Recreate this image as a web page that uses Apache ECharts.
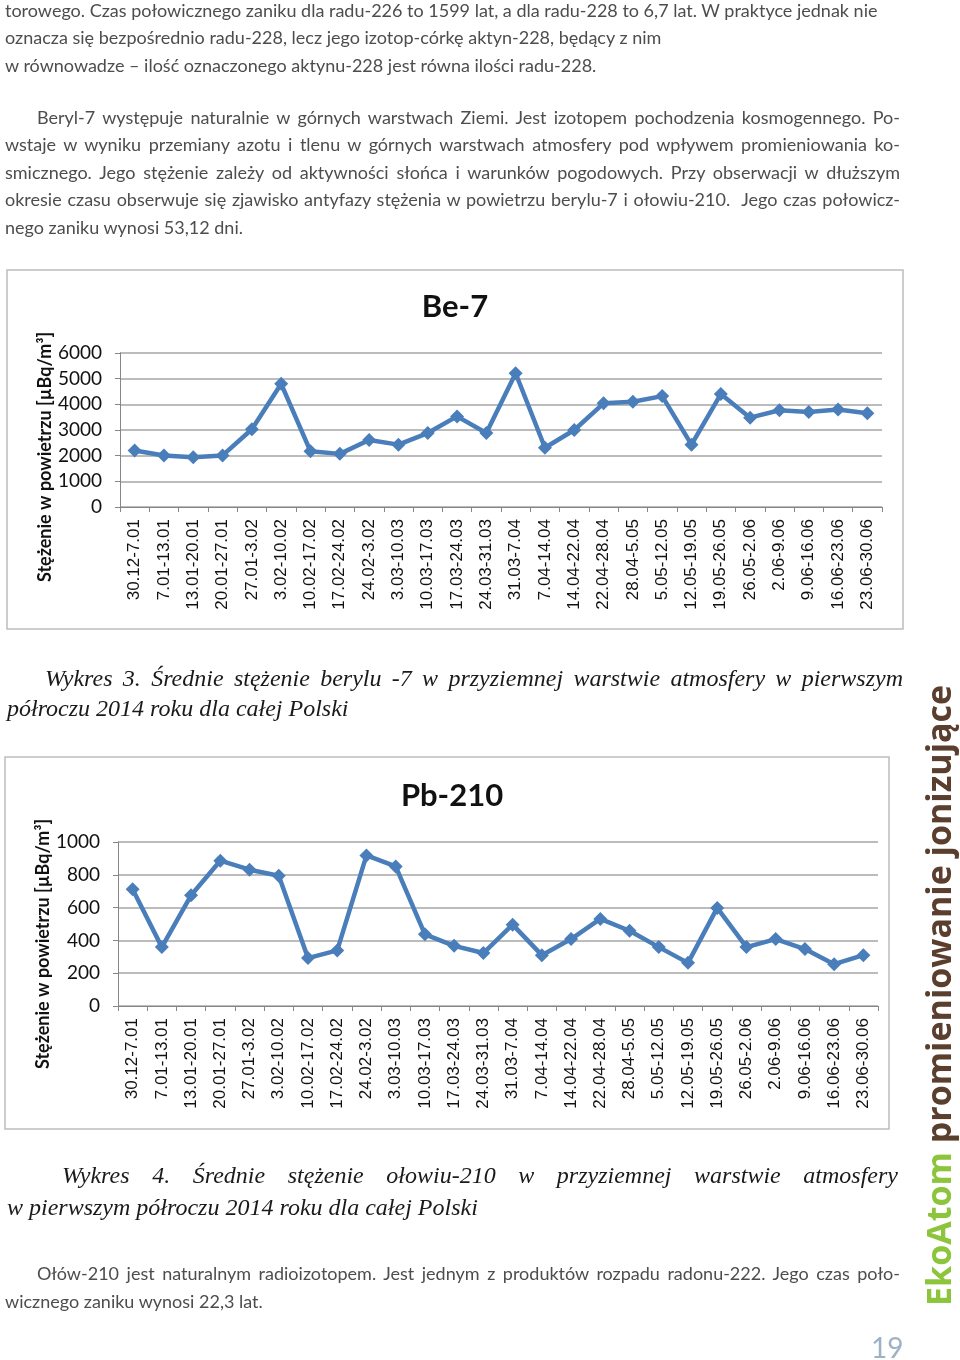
<!DOCTYPE html>
<html>
<head>
<meta charset="utf-8">
<script src="https://cdn.jsdelivr.net/npm/echarts@6/dist/echarts.min.js"></script>
<style>
  body { margin: 0; background: #fff; }
  #main { position: absolute; left: 0; top: 0; width: 960px; height: 1360px; }
  .ln { position: absolute; white-space: nowrap; font-family: Lato, sans-serif; font-size: 18px; color: #4d4d4d; line-height: 28px; height: 28px; }
  .j { text-align: justify; text-align-last: justify; white-space: normal; }
  .cap { position: absolute; white-space: nowrap; font-family: "Liberation Serif", serif; font-style: italic; font-size: 24px; color: #1a1a1a; line-height: 30px; height: 30px; }
  .side { position: absolute; left: 917px; top: 1306px; transform-origin: 0 0; transform: rotate(-90deg); white-space: nowrap; font-family: "Open Sans", sans-serif; font-weight: bold; font-size: 34px; line-height: 42px; }
  .pg { position: absolute; left: 871px; top: 1330px; font-family: Lato, sans-serif; font-size: 28px; color: #9db2c6; }
</style>
</head>
<body>
<div id="main"></div>

<div class="ln" style="left:5px;top:-4px">torowego. Czas połowicznego zaniku dla radu-226 to 1599 lat, a dla radu-228 to 6,7 lat. W praktyce jednak nie</div>
<div class="ln" style="left:5px;top:23px">oznacza się bezpośrednio radu-228, lecz jego izotop-córkę aktyn-228, będący z nim</div>
<div class="ln" style="left:5px;top:51px">w równowadze – ilość oznaczonego aktynu-228 jest równa ilości radu-228.</div>

<div class="ln j" style="left:37px;top:103px;width:863px">Beryl-7 występuje naturalnie w górnych warstwach Ziemi. Jest izotopem pochodzenia kosmogennego. Po-</div>
<div class="ln j" style="left:5px;top:130px;width:895px">wstaje w wyniku przemiany azotu i tlenu w górnych warstwach atmosfery pod wpływem promieniowania ko-</div>
<div class="ln j" style="left:5px;top:158px;width:895px">smicznego. Jego stężenie zależy od aktywności słońca i warunków pogodowych. Przy obserwacji w dłuższym</div>
<div class="ln j" style="left:5px;top:185px;width:895px">okresie czasu obserwuje się zjawisko antyfazy stężenia w powietrzu berylu-7 i ołowiu-210.&nbsp; Jego czas połowicz-</div>
<div class="ln" style="left:5px;top:213px">nego zaniku wynosi 53,12 dni.</div>

<div class="cap j" style="left:45px;top:663px;width:858px">Wykres 3. Średnie stężenie berylu -7 w przyziemnej warstwie atmosfery w pierwszym</div>
<div class="cap" style="left:7px;top:693px">półroczu 2014 roku dla całej Polski</div>

<div class="cap j" style="left:62px;top:1160px;width:836px">Wykres 4. Średnie stężenie ołowiu-210 w przyziemnej warstwie atmosfery</div>
<div class="cap" style="left:7px;top:1192px">w pierwszym półroczu 2014 roku dla całej Polski</div>

<div class="ln j" style="left:37px;top:1259px;width:863px">Ołów-210 jest naturalnym radioizotopem. Jest jednym z produktów rozpadu radonu-222. Jego czas poło-</div>
<div class="ln" style="left:5px;top:1287px">wicznego zaniku wynosi 22,3 lat.</div>

<div class="side"><span style="color:#8cc43c">EkoAtom</span> <span style="color:#5b3f2e">promieniowanie jonizujące</span></div>
<div class="pg">19</div>

<script>
// tygodniowe okresy pomiarowe (I półrocze 2014)
const categories = [
  '30.12-7.01', '7.01-13.01', '13.01-20.01', '20.01-27.01', '27.01-3.02',
  '3.02-10.02', '10.02-17.02', '17.02-24.02', '24.02-3.02', '3.03-10.03',
  '10.03-17.03', '17.03-24.03', '24.03-31.03', '31.03-7.04', '7.04-14.04',
  '14.04-22.04', '22.04-28.04', '28.04-5.05', '5.05-12.05', '12.05-19.05',
  '19.05-26.05', '26.05-2.06', '2.06-9.06', '9.06-16.06', '16.06-23.06',
  '23.06-30.06'
];

// Be-7 [µBq/m3]
const be7Values = [
  2200, 2010, 1940, 2010, 3030, 4800, 2170, 2070, 2610, 2430,
  2880, 3530, 2880, 5210, 2310, 3000, 4040, 4100, 4320, 2430,
  4400, 3480, 3770, 3700, 3800, 3650
];

// Pb-210 [µBq/m3]
const pb210Values = [
  712, 359, 675, 886, 831, 794, 292, 339, 918, 851,
  437, 367, 323, 496, 310, 408, 531, 459, 359, 263,
  598, 359, 408, 347, 255, 310
];

const be7Ticks = [0, 1000, 2000, 3000, 4000, 5000, 6000];
const pb210Ticks = [0, 200, 400, 600, 800, 1000];

const yName = 'Stężenie w powietrzu [µBq/m³]';

const chart = echarts.init(document.getElementById('main'));

const lineColor = '#4a7ebb';

function xAxisOf(gridIndex) {
  return {
    type: 'category',
    gridIndex: gridIndex,
    data: categories,
    axisLine: {lineStyle: {color: '#868686', width: 1}},
    axisTick: {show: true, length: 5, lineStyle: {color: '#868686'}},
    axisLabel: {
      interval: 0, rotate: 90, margin: 12,
      fontFamily: 'Liberation Sans', fontSize: 17, color: '#111'
    },
    splitLine: {show: false}
  };
}

function yAxisOf(gridIndex, ticks) {
  return {
    type: 'value',
    gridIndex: gridIndex,
    min: ticks[0],
    max: ticks[ticks.length - 1],
    interval: ticks[1] - ticks[0],
    axisLine: {show: true, lineStyle: {color: '#868686', width: 1}},
    axisTick: {show: true, length: 5, lineStyle: {color: '#868686'}},
    axisLabel: {
      margin: 18, fontFamily: 'Lato', fontSize: 19, color: '#111',
      formatter: function (v) { return String(v); }
    },
    splitLine: {lineStyle: {color: '#a6a6a6', width: 1.5}}
  };
}

function seriesOf(idx, values) {
  return {
    type: 'line',
    xAxisIndex: idx,
    yAxisIndex: idx,
    data: values,
    symbol: 'diamond',
    symbolSize: 14,
    lineStyle: {color: lineColor, width: 4.5},
    itemStyle: {color: lineColor},
    animation: false
  };
}

const optionData = {
  animation: false,
  grid: [
    {left: 120, top: 353, width: 762, height: 154, outerBoundsMode: 'none'},
    {left: 118, top: 842, width: 760, height: 164, outerBoundsMode: 'none'}
  ],
  xAxis: [xAxisOf(0), xAxisOf(1)],
  yAxis: [yAxisOf(0, be7Ticks), yAxisOf(1, pb210Ticks)],
  series: [seriesOf(0, be7Values), seriesOf(1, pb210Values)],
  graphic: [
    {type: 'rect', shape: {x: 7, y: 270, width: 896, height: 359}, style: {fill: null, stroke: '#bdbdbd', lineWidth: 1.5}, z: -1},
    {type: 'rect', shape: {x: 5, y: 757, width: 884, height: 372}, style: {fill: null, stroke: '#bdbdbd', lineWidth: 1.5}, z: -1},
    {type: 'text', x: 455, y: 307, style: {text: 'Be-7', font: 'bold 31px Lato', fill: '#111', align: 'center', verticalAlign: 'middle'}},
    {type: 'text', x: 452, y: 796, style: {text: 'Pb-210', font: 'bold 31px Lato', fill: '#111', align: 'center', verticalAlign: 'middle'}},
    {type: 'text', x: 45, y: 457, rotation: Math.PI / 2, style: {text: yName, font: 'bold 18px Lato', fill: '#111', align: 'center', verticalAlign: 'middle'}},
    {type: 'text', x: 43, y: 944, rotation: Math.PI / 2, style: {text: yName, font: 'bold 18px Lato', fill: '#111', align: 'center', verticalAlign: 'middle'}}
  ]
};

chart.setOption(optionData);
</script>
</body>
</html>
